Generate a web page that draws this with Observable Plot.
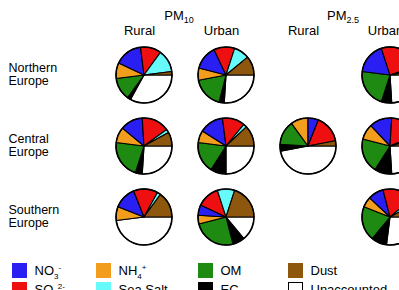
<!DOCTYPE html>
<html><head><meta charset="utf-8">
<script src="https://cdn.jsdelivr.net/npm/d3@7"></script>
<script src="https://cdn.jsdelivr.net/npm/@observablehq/plot@0.6"></script>
<style>
body{margin:0;background:#fff;font-family:"Liberation Sans",Arial,sans-serif;color:#000;}
#chart{width:399px;height:290px;overflow:hidden;position:relative;}
.legend{display:grid;grid-template-columns:84px 102px 90px 111px;grid-template-rows:15px 15px;grid-auto-flow:column;row-gap:4.5px;padding-left:12px;margin-top:6.5px;}
.item{display:flex;align-items:center;height:15px;font-size:13px;white-space:nowrap;}
.sw{width:15px;height:15px;margin-right:7.5px;box-sizing:border-box;flex:none;}
.item sub,.item sup{font-size:8px;line-height:0;}
</style></head><body><div id="chart"></div>
<script>
// ---- data ----
const regions = ["Northern Europe", "Central Europe", "Southern Europe"];
const columns = ["PM10 Rural", "PM10 Urban", "PM2.5 Rural", "PM2.5 Urban"];
const sizeHeaders = [["PM", "10"], ["PM", "2.5"]];
const components = ["NO3", "SO4", "NH4", "Sea Salt", "OM", "EC", "Dust", "Unaccounted"];
const colors = ["#2a1ff2", "#ee1010", "#f29e1c", "#66fafa", "#1e8a12", "#000000", "#8e570e", "#ffffff"];
const legendText = [["NO", "3", "-"], ["SO", "4", "2-"], ["NH", "4", "+"], ["Sea Salt"], ["OM"], ["EC"], ["Dust"], ["Unaccounted"]];
// order of slices clockwise from 3 o'clock
const pieOrder = ["Unaccounted", "EC", "OM", "NH4", "NO3", "SO4", "Sea Salt", "Dust"];
// shares (%) in components order
const northernRuralPM10 = [16, 12, 9, 13, 13, 2, 2, 33];
const northernUrbanPM10 = [14, 12, 7, 9, 18, 3, 11, 26];
const northernUrbanPM25 = [18, 25, 0, 2, 22, 6, 3, 24];
const centralRuralPM10 = [13, 16, 9, 2, 22, 4, 8, 26];
const centralUrbanPM10 = [14, 13, 7, 2, 18, 9, 12, 25];
const centralRuralPM25 = [6, 16, 10, 0, 14, 4, 3, 47];
const centralUrbanPM25 = [13, 18, 9, 2, 20, 10, 4, 24];
const southernRuralPM10 = [13, 14, 8, 2, 0, 0, 15, 48];
const southernUrbanPM10 = [6, 13, 5, 10, 25, 7, 20, 14];
const southernUrbanPM25 = [9, 18, 6, 3, 20, 9, 8, 27];

const pies = [
  {region: regions[0], column: columns[0], values: northernRuralPM10},
  {region: regions[0], column: columns[1], values: northernUrbanPM10},
  {region: regions[0], column: columns[3], values: northernUrbanPM25},
  {region: regions[1], column: columns[0], values: centralRuralPM10},
  {region: regions[1], column: columns[1], values: centralUrbanPM10},
  {region: regions[1], column: columns[2], values: centralRuralPM25},
  {region: regions[1], column: columns[3], values: centralUrbanPM25},
  {region: regions[2], column: columns[0], values: southernRuralPM10},
  {region: regions[2], column: columns[1], values: southernUrbanPM10},
  {region: regions[2], column: columns[3], values: southernUrbanPM25}
];
const slices = pies.flatMap(p => pieOrder.map(c => ({
  region: p.region, column: p.column, component: c, share: p.values[components.indexOf(c)]
})));

// ---- rendering ----
const R = 28;
function renderPies(index, scales, values) {
  const g = d3.create("svg:g");
  const groups = d3.group(index, i => values.x[i] + "," + values.y[i]);
  const arc = d3.arc().innerRadius(0).outerRadius(R);
  for (const [, idx] of groups) {
    const cx = values.x[idx[0]], cy = values.y[idx[0]];
    const arcs = d3.pie().sort(null).value(i => slices[i].share)
      .startAngle(Math.PI / 2).endAngle(Math.PI / 2 + 2 * Math.PI)(idx);
    const pg = g.append("g").attr("transform", `translate(${cx},${cy})`);
    pg.selectAll("path").data(arcs.filter(a => a.value > 0)).join("path")
      .attr("d", arc).attr("fill", a => values.fill[a.data])
      .attr("stroke", "#000").attr("stroke-width", 1.1).attr("stroke-linejoin", "round");
    pg.append("circle").attr("r", R).attr("fill", "none").attr("stroke", "#000").attr("stroke-width", 1.6);
  }
  return g.node();
}
function renderHeaders(index, scales, values, dimensions) {
  const g = d3.create("svg:g").attr("font-size", 13).attr("text-anchor", "middle");
  sizeHeaders.forEach(([main, sub], k) => {
    const x = (scales.x(columns[2 * k]) + scales.x(columns[2 * k + 1])) / 2 - 6;
    const t = g.append("text").attr("x", x).attr("y", dimensions.marginTop - 55.5);
    t.append("tspan").text(main);
    t.append("tspan").attr("font-size", 9).attr("dy", 3).text(sub);
  });
  return g.node();
}

const plot = Plot.plot({
  width: 399, height: 256,
  marginLeft: 143, marginRight: 7.5, marginTop: 75, marginBottom: 39,
  x: {type: "point", domain: columns, padding: 0},
  y: {type: "point", domain: regions, padding: 0},
  color: {domain: components, range: colors},
  style: {fontFamily: "'Liberation Sans', Arial, sans-serif", color: "#000", background: "#fff"},
  marks: [
    Plot.axisX({anchor: "top", tickSize: 0, tickPadding: 41, dx: -5, tickFormat: d => d.split(" ")[1], fontSize: 13, label: null}),
    Plot.axisY({anchor: "left", tickSize: 0, tickPadding: 135, textAnchor: "start", tickFormat: d => d.replace(" ", "\n"), fontSize: 12.5, lineHeight: 1.1, dy: -1.5, label: null}),
    Plot.dot(slices, {x: "column", y: "region", fill: "component", render: renderPies}),
    renderHeaders
  ]
});

const chart = document.getElementById("chart");
chart.appendChild(plot);
const color = plot.scale("color");
const legend = document.createElement("div");
legend.className = "legend";
components.forEach((c, i) => {
  const item = document.createElement("div");
  item.className = "item";
  const sw = document.createElement("span");
  sw.className = "sw";
  sw.style.background = color.range[color.domain.indexOf(c)];
  if (c === "Unaccounted") sw.style.border = "1px solid #000";
  item.appendChild(sw);
  const lab = document.createElement("span");
  const [main, sub, sup] = legendText[i];
  lab.appendChild(document.createTextNode(main));
  if (sub) { const s = document.createElement("sub"); s.textContent = sub; lab.appendChild(s); }
  if (sup) { const s = document.createElement("sup"); s.textContent = sup; lab.appendChild(s); }
  item.appendChild(lab);
  legend.appendChild(item);
});
chart.appendChild(legend);
</script>
</body></html>
